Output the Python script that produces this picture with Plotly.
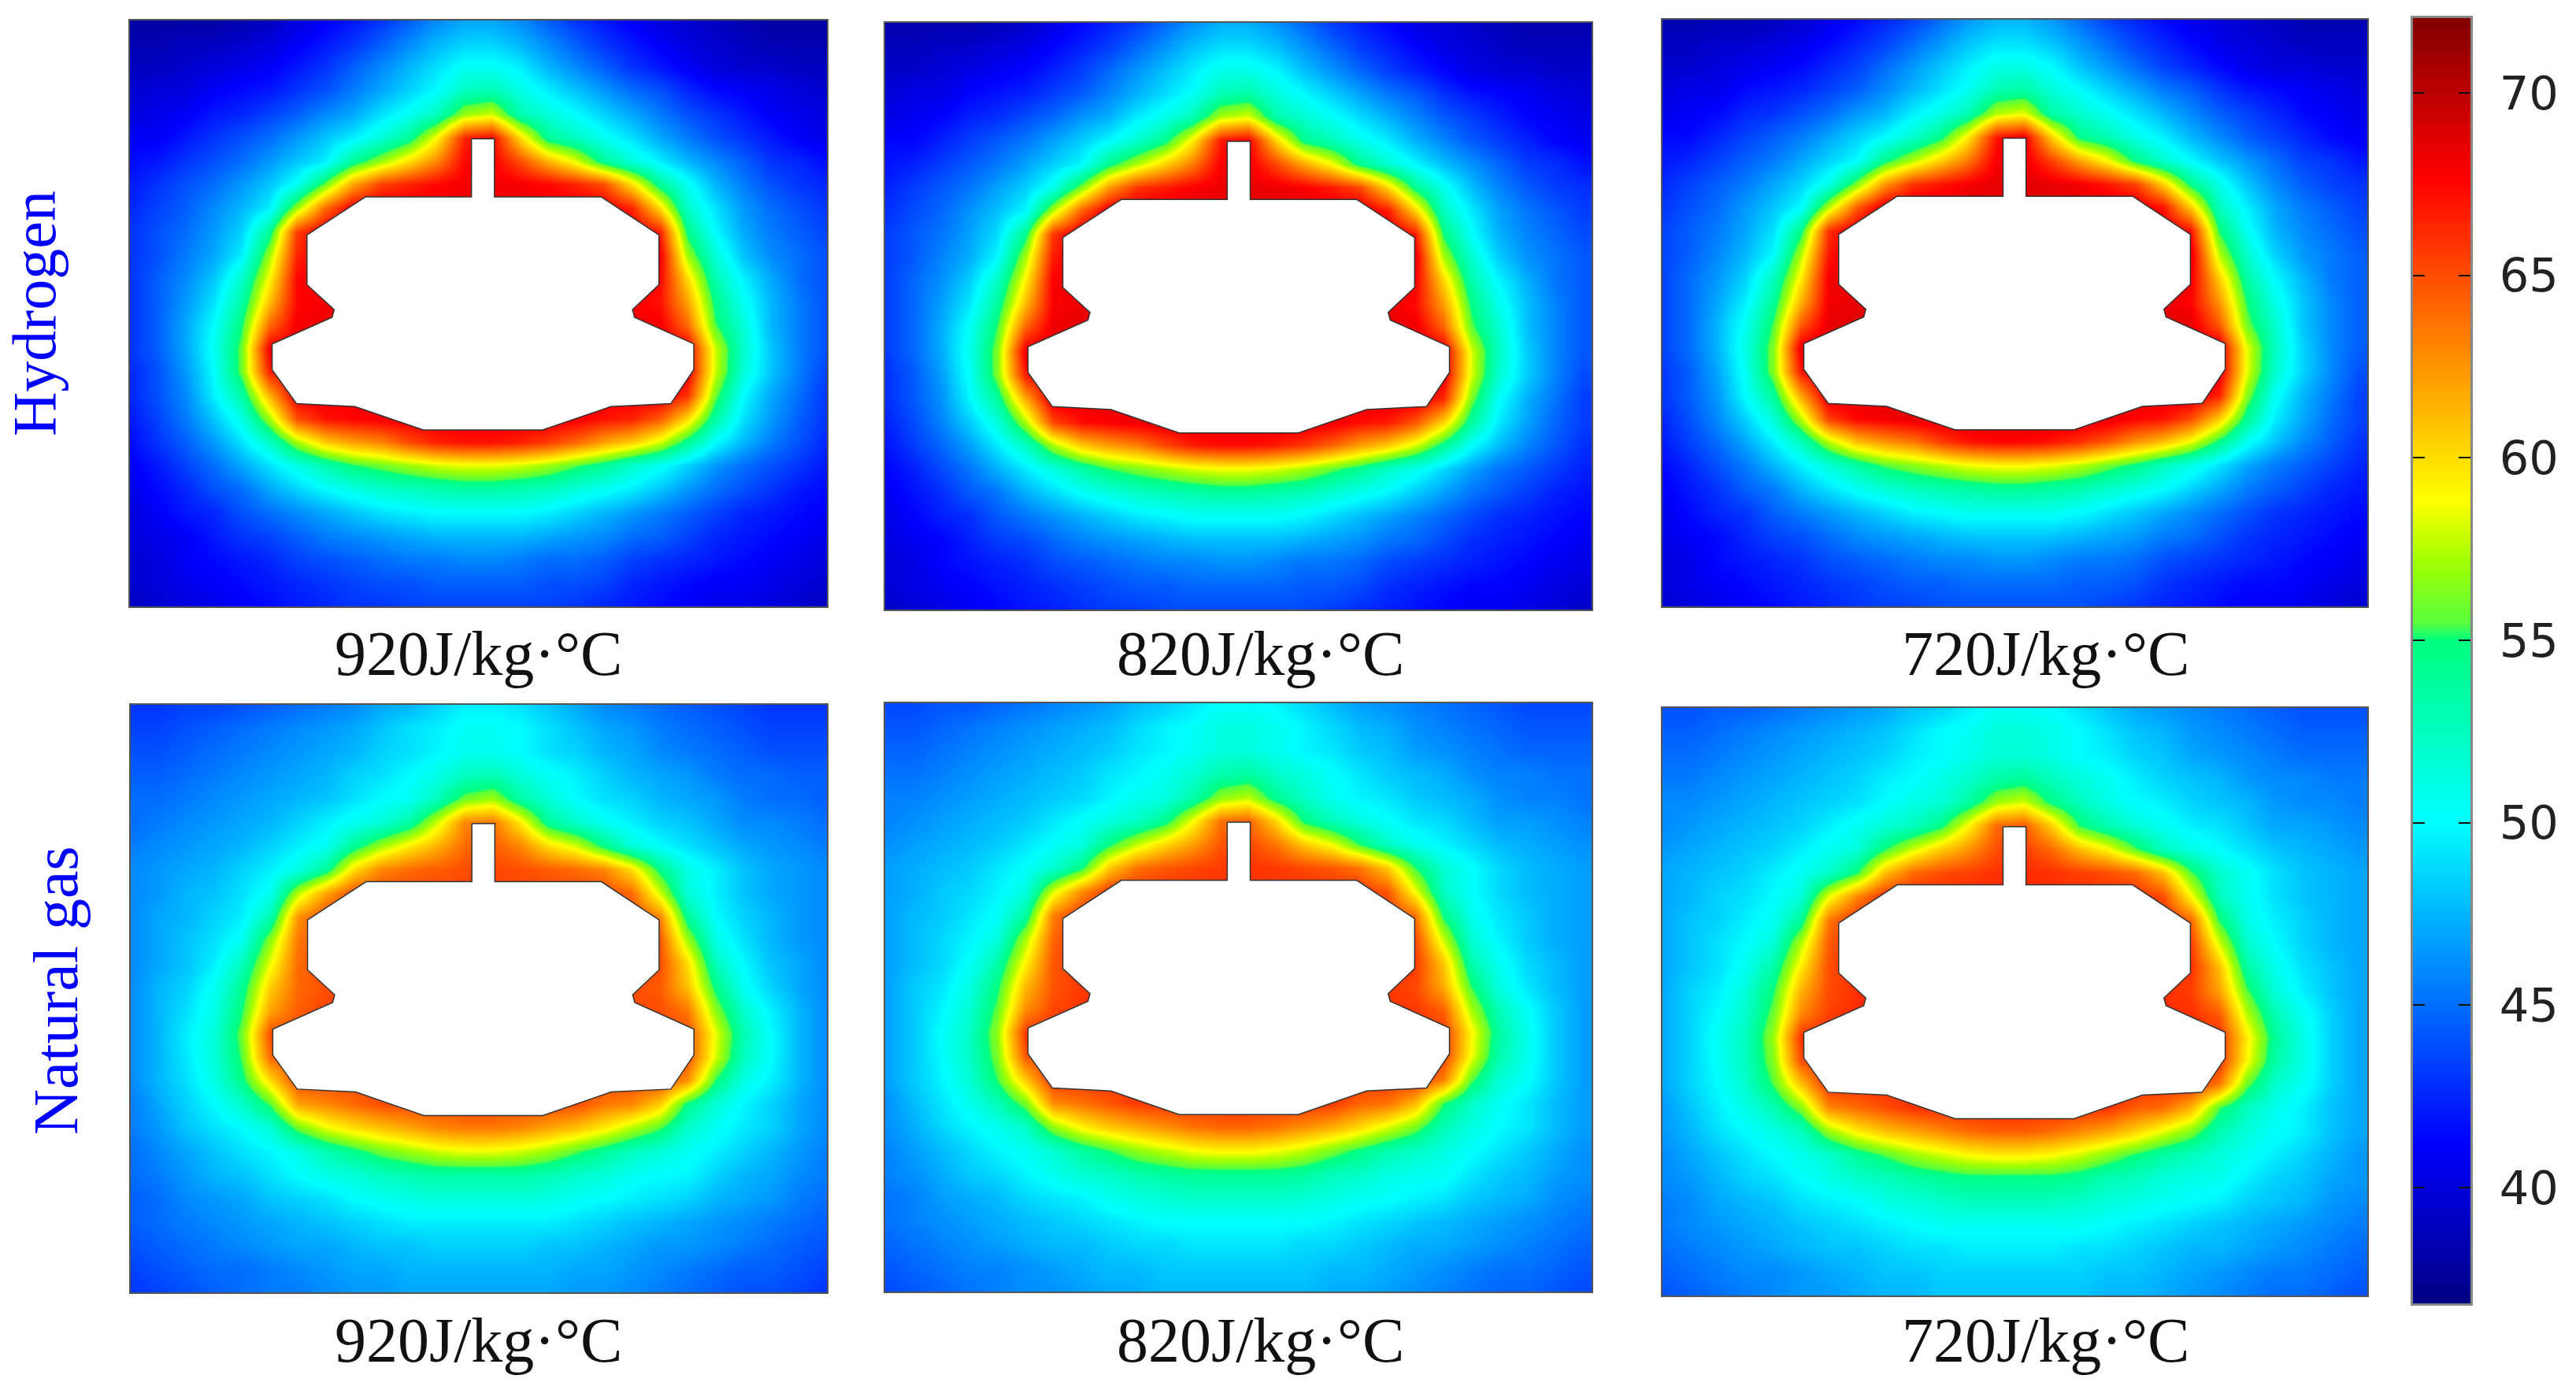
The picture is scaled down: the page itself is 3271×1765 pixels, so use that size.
import plotly.graph_objects as go

W, H = 3271, 1765

grid_x = [0,4,8,12,16,20,24,28,32,36,40,44,48,52,56,60,64,68,72,76,80,84,88,92,96,100]
grid_y = [0,4,8,12,16,20,24,28,32,36,40,44,48,52,56,60,64,68,72,76,80,84,88,92,96,100]

hydrogen_field = [
[38,38,38,38,38.5,39,40,41,42,43,44.5,46,47,47,46,44.5,43,42,41,40,39.5,39,38.5,38,38,38],
[38.5,38.5,39,39,39.5,40,41,42,43,44.5,46,47.5,48.5,48.5,47.5,46,44.5,43,42,41,40,39.5,39,38.5,38.5,38.5],
[39,39,39.5,40,40.5,41,42,43,44.5,46,47.5,49,50.5,50.5,49.5,47.5,46,44.5,43,42,41,40,39.5,39.5,39,39],
[39.5,40,40,41,41.5,42,43,44,45.5,47,48.5,50,52.5,53,51,49.5,48,46.5,45,44,42.5,41.5,41,40.5,40,39.5],
[40,40.5,41,42,42.5,43.5,44.5,46,47,49,50.5,52.5,57,58,53,51.5,50,48.5,47,45.5,44,43,42,41,40.5,40],
[41,41,42,43,44,45,46.5,48,49.5,51.5,54,59,66.5,67.5,60,54,52.5,50.5,49,47,45.5,44,43,42,41,40.5],
[41.5,42,43,44,45,46.5,48,49.5,54,57,60,63,67.5,67.8,65,61.5,58.5,54,51.5,49.5,47.5,46,44.5,43,42.5,41.5],
[42,43,44,45,46.5,48,50.5,56,62,65.5,66.5,67.5,68,68.2,68,67.5,66.5,65,60,54,50.5,47.5,45.5,44,43,42.5],
[42.5,43.5,44.5,46,47.5,49.5,57,64,68,68.2,68.2,68.2,68.2,68.2,68.2,68.2,68.2,68.2,66.5,60,52,49,46.5,45,44,43],
[43,44,45,46.5,48.5,54,65.5,68.2,68.2,68.2,68.2,68.2,68.2,68.2,68.2,68.2,68.2,68.2,68.2,66.5,54.5,50,47,45.5,44.5,43.5],
[43,44,45.5,47,49.5,57,66.5,68.2,68.2,68.2,68.2,68.2,68.2,68.2,68.2,68.2,68.2,68.2,68.2,68,57,51.5,48,46,45,44],
[43,44.5,46,48,52,59,67.5,68.2,68.2,68.2,68.2,68.2,68.2,68.2,68.2,68.2,68.2,68.2,68.2,67.5,60,53,49.5,47,45,44],
[43,44.5,46.5,49,53.5,61,67.5,68,68.2,68.2,68.2,68.2,68.2,68.2,68.2,68.2,68.2,68.2,68,67,62,54.5,50.5,47.5,45.5,44],
[43,44.5,47,50,55,64,68,68.2,68.2,68.2,68.2,68.2,68.2,68.2,68.2,68.2,68.2,68.2,68.2,68,64,55.5,51.5,47.5,45.5,44],
[43,44.5,47,50.5,56,68,68.2,68.2,68.2,68.2,68.2,68.2,68.2,68.2,68.2,68.2,68.2,68.2,68.2,68.2,68,58,52,48,45.5,44],
[42.5,44,46.5,50,56,66.5,68.2,68.2,68.2,68.2,68.2,68.2,68.2,68.2,68.2,68.2,68.2,68.2,68.2,68.2,68,58,51.5,48,45.5,43.5],
[42.5,44,46,49.5,53.5,61.5,68.2,68.2,68.2,68.2,68.2,68.2,68.2,68.2,68.2,68.2,68.2,68.2,68.2,68.2,66,56,50,47,45,43],
[42,43.5,45.5,48,51,57,65,67,67.5,68,68.2,68.2,68.2,68.2,68.2,68.2,68,67,66.5,64.5,60,53.5,49,46.5,44.5,43],
[41.5,43,44.5,46.5,49,52,57,60.5,62,63,65,66.5,67,67,66.5,65.5,64,62,60.5,58,54,50,47.5,45.5,44,42.5],
[41,42,43.5,45,47,49,51,53,55,56,57,58,58.5,58.5,58,57,55.5,54,52,50.5,48.5,46.5,45,44,43,42],
[40.5,41.5,42.5,44,45,47,48.5,50,51,52,52.5,53,53.5,53.5,53,52.5,51.5,50.5,49.5,48,46.5,45,44,43,42,41.5],
[40,41,42,42.5,44,45,46,47,48,49,49.5,50,50,50,50,49.5,48.5,47.5,46.5,45.5,44.5,43.5,42.5,42,41.5,41],
[40,40.5,41,42,43,43.5,44.5,45.5,46,46.5,47,47.5,47.5,47.5,47.5,47,46.5,46,45,44.5,43.5,42.5,42,41.5,41,40.5],
[39.5,40,41,41.5,42,42.5,43.5,44,44.5,45,45.5,45.5,46,46,45.5,45,45,44.5,43.5,43,42.5,42,41.5,41,40.5,40],
[39.5,40,40.5,41,41.5,42,42.5,43,43.5,44,44,44.5,44.5,44.5,44.5,44,44,43.5,42.5,42,41.5,41,41,40.5,40,39.5],
[39,39.5,40,40.5,41,41.5,42,42.5,43,43,43.5,43.5,43.5,43.5,43.5,43.5,43,42.5,42,41.5,41,40.5,40.5,40,39.5,39],
]

natural_gas_field = [
[43,43,43.5,43.5,44,44.5,45,45.5,46,47,47.5,48.5,49.5,49.5,49,48,47,46,45.5,45,44.5,44,43.5,43,43,43],
[43.5,43.5,44,44.5,45,45.5,46,46.5,47,48,49,49.5,50.5,50.5,50,49,48,47,46.5,45.5,45,44.5,44,43.5,43.5,43.5],
[44,44,44.5,45,45.5,46,46.5,47,47.5,48.5,49,49.8,50.6,50.6,50,49,48.5,47.5,47,46,45.5,45,44.5,44,44,44],
[44.5,44.5,45,45.5,46,46.5,47,47.5,48.5,49,50,51,52.5,53,51.5,50.5,49.5,48.5,47.5,47,46.5,45.5,45,45,44.5,44.5],
[45,45,45.5,46,46.5,47,47.5,48,49,50,50.5,52.5,56,57,53.5,51.5,50,49,48.5,47.5,47,46.5,45.5,45,45,44.5],
[45,45.5,46,46.5,47,47.5,48.5,49.5,50.5,51.5,53.5,58,63,63.5,59.5,54,52,50.5,49.5,48.5,48,47,46,46,45.5,45],
[45.5,46,46.5,47,47.5,48.5,49.5,50.5,54,57,59.5,61.5,64,64.5,63,60,58,54.5,51.5,50,49,48,47,46.5,46,45.5],
[46,46.5,47,47.5,48.5,49.5,51,54,60,63,64,64.5,65,65.2,65,64.5,64,63,60,54.5,51,49.5,48,47,46.5,46],
[46,46.5,47.5,48,49,50.5,57.5,62,65,65.2,65.2,65.2,65.2,65.2,65.2,65.2,65.2,65.2,64,58,51.5,49.5,48,47,46.5,46],
[46,47,47.5,48.5,49.5,53,62.5,65.2,65.2,65.2,65.2,65.2,65.2,65.2,65.2,65.2,65.2,65.2,65.2,63,54,50,48.5,47.5,46.5,46],
[46,47,48,49,50.5,56.5,63.5,65.2,65.2,65.2,65.2,65.2,65.2,65.2,65.2,65.2,65.2,65.2,65.2,64.5,57,51,49,47.5,46.5,46],
[46,47,48,49.5,52.5,58.5,64,65.2,65.2,65.2,65.2,65.2,65.2,65.2,65.2,65.2,65.2,65.2,65.2,65,60,52.5,49.8,48,47,46],
[46,47.5,48.5,50.5,54,60.5,64,65,65.2,65.2,65.2,65.2,65.2,65.2,65.2,65.2,65.2,65.2,65,64.5,61,54.5,50.5,48.5,47,46],
[46,47.5,49,51,55,62,64.5,65.2,65.2,65.2,65.2,65.2,65.2,65.2,65.2,65.2,65.2,65.2,65.2,65,63.5,56.5,52,49.5,47.5,46],
[46,47.5,49.5,51.5,56,65,65.2,65.2,65.2,65.2,65.2,65.2,65.2,65.2,65.2,65.2,65.2,65.2,65.2,65.2,65,58.5,53,50,47.5,46],
[46,47.5,49.3,51.5,55.5,64,65.2,65.2,65.2,65.2,65.2,65.2,65.2,65.2,65.2,65.2,65.2,65.2,65.2,65.2,65,58,52.5,50,47.5,46],
[46,47.5,49,51,54.5,60,65.2,65.2,65.2,65.2,65.2,65.2,65.2,65.2,65.2,65.2,65.2,65.2,65.2,65.2,62.5,55,51,49.5,47.5,46],
[45.5,47,48.5,50,52,55.5,62,63,64,65,65.2,65.2,65.2,65.2,65.2,65.2,65,63.5,63,60.5,54.5,51.5,49.8,48.5,47,46],
[45.5,46.5,48,49,50,51.5,56,58.5,60,61,62,63,63.5,63.5,63,62,61,59.5,57.5,55.5,52,50.5,49.3,48.5,47,46],
[45,46,47,48,49,49.8,51,53,54.5,56,57,58,58.5,58.5,58,57,55.5,54,52.5,51.5,50.5,49.5,48.5,47.5,46.5,45.5],
[45,45.5,46.5,47.5,48,49,50,51,51.5,52.5,53,53.5,53.5,53.5,53.5,53,52,51.5,50.5,50,49.8,48.5,47.5,47,46,45.5],
[44.5,45,46,46.5,47,48,48.5,49,50,50.5,51,51.5,51.5,51.5,51.5,51,50.5,50,49.5,49,48.5,47.5,47,46.5,45.5,45],
[44.5,45,45.5,46,46.5,47,47.5,48,48.5,49,49.5,49.5,49.5,49.5,49.5,49.5,49,48.5,48,47.5,47,46.5,46,45.5,45,44.5],
[44,44.5,45,45.5,46,46.5,47,47,47.5,48,48,48.5,48.5,48.5,48.5,48,48,47.5,47,46.5,46.5,46,45.5,45,44.5,44],
[43.5,44,44.5,45,45,45.5,46,46.5,47,47,47.5,47.5,47.5,47.5,47.5,47.5,47,47,46.5,46,45.5,45,44.5,44.5,44,43.5],
[43,43.5,44,44.5,45,45.5,45.5,46,46.5,46.5,47,47,47,47,47,47,46.5,46.5,46,45.5,45,44.5,44,44,43.5,43],
]

# offset of each panel's level from its fuel's field
panel_level_offset = [0, 0.3, 0.5, 0, 0.7, 1.0]
panel_fuel = ["hydrogen", "hydrogen", "hydrogen", "natural gas", "natural gas", "natural gas"]
panel_titles = ["920J/kg·°C", "820J/kg·°C", "720J/kg·°C", "920J/kg·°C", "820J/kg·°C", "720J/kg·°C"]

vessel_x = [49.0,52.3,52.3,67.6,75.9,75.9,72.1,72.4,80.9,80.9,77.6,69.0,59.2,42.1,32.3,23.9,20.4,20.4,29.0,29.3,25.4,25.4,33.8,49.0,49.0]
vessel_y = [20.2,20.2,30.1,30.1,36.6,45.1,49.35,50.65,55.2,59.6,65.4,65.9,69.9,69.9,65.9,65.4,59.6,55.2,50.65,49.35,45.1,36.6,30.1,30.1,20.2]

scale_ticks = [40, 45, 50, 55, 60, 65, 70]
scale_levels = list(range(37, 73))
scale_min, scale_max = 36.83, 72.05

assert all(len(r) == 26 for r in hydrogen_field + natural_gas_field)
assert len(hydrogen_field) == 26 and len(natural_gas_field) == 26

colorscale = [
    [0.0, "rgb(0,0,130)"], [0.125, "rgb(0,0,255)"], [0.375, "rgb(0,255,255)"],
    [0.5, "rgb(0,255,140)"], [0.516, "rgb(0,255,128)"], [0.53, "rgb(90,255,60)"],
    [0.58, "rgb(165,255,0)"], [0.625, "rgb(255,255,0)"], [0.875, "rgb(255,0,0)"],
    [1.0, "rgb(130,0,0)"],
]

# pixel frames: left, right, top, bottom; x range of each panel
frames = [
    (165, 1050, 26, 770), (1124, 2021, 29, 774), (2111, 3006, 25, 770),
    (166, 1050, 895, 1641), (1124, 2021, 893, 1640), (2111, 3006, 899, 1645),
]
x_ranges = [(0, 100), (-0.1, 101.3), (0.1, 101.3), (0, 100), (-0.1, 101.3), (0.1, 101.3)]
label_pos = [(607, 830), (1600, 830), (2597, 830), (607, 1702), (1600, 1702), (2597, 1702)]

def dom_x(a, b):
    return [a / W, b / W]

def dom_y(t, b):
    return [1 - b / H, 1 - t / H]

fig = go.Figure()
layout = {}
annotations = []
frame_color = "#555555"

for i, (l, r, t, b) in enumerate(frames):
    n = i + 1
    field = hydrogen_field if panel_fuel[i] == "hydrogen" else natural_gas_field
    z = [[v + panel_level_offset[i] for v in row] for row in field]
    fig.add_trace(go.Heatmap(x=grid_x, y=grid_y, z=z, zsmooth="best", coloraxis="coloraxis",
                             xaxis=f"x{n}", yaxis=f"y{n}", hoverinfo="skip"))
    fig.add_trace(go.Scatter(x=vessel_x, y=vessel_y, mode="lines", fill="toself",
                             fillcolor="white", line=dict(color="#333333", width=1.5),
                             xaxis=f"x{n}", yaxis=f"y{n}", hoverinfo="skip", showlegend=False))
    layout[f"xaxis{n}"] = dict(domain=dom_x(l, r), range=list(x_ranges[i]), anchor=f"y{n}",
                               showgrid=False, zeroline=False, showticklabels=False, ticks="",
                               showline=True, mirror=True, linecolor=frame_color, linewidth=2)
    layout[f"yaxis{n}"] = dict(domain=dom_y(t, b), range=[100, 0], anchor=f"x{n}",
                               showgrid=False, zeroline=False, showticklabels=False, ticks="",
                               showline=True, mirror=True, linecolor=frame_color, linewidth=2)
    annotations.append(dict(text=panel_titles[i], xref="paper", yref="paper",
                            x=label_pos[i][0] / W, y=1 - label_pos[i][1] / H,
                            xanchor="center", yanchor="middle", showarrow=False,
                            font=dict(family="Liberation Serif", size=80, color="#111111")))

# colour scale strip
fig.add_trace(go.Heatmap(x=[0, 1], y=scale_levels, z=[[v, v] for v in scale_levels], zsmooth="best",
                         coloraxis="coloraxis", xaxis="x7", yaxis="y7", hoverinfo="skip"))
layout["xaxis7"] = dict(domain=dom_x(3064, 3137), range=[0, 1], anchor="y7", showgrid=False,
                        zeroline=False, showticklabels=False, ticks="", showline=True, mirror=True,
                        linecolor="#888888", linewidth=3)
layout["yaxis7"] = dict(domain=dom_y(23, 1655), range=[scale_min, scale_max], anchor="x7", side="right",
                        showgrid=False, zeroline=False, tickvals=scale_ticks, ticks="inside", ticklen=15,
                        tickwidth=2, tickcolor="#111111", showline=True, mirror="ticks",
                        linecolor="#888888", linewidth=3, ticklabelstandoff=22,
                        tickfont=dict(family="DejaVu Sans", size=59, color="#222222"))

annotations.append(dict(text="Hydrogen", xref="paper", yref="paper", x=44 / W, y=1 - 398 / H,
                        textangle=-90, showarrow=False, xanchor="center", yanchor="middle",
                        font=dict(family="Liberation Serif", size=78, color="#0000ff")))
annotations.append(dict(text="Natural gas", xref="paper", yref="paper", x=71 / W, y=1 - 1258 / H,
                        textangle=-90, showarrow=False, xanchor="center", yanchor="middle",
                        font=dict(family="Liberation Serif", size=80, color="#0000ff")))

fig.update_layout(
    width=W, height=H, autosize=False, margin=dict(l=0, r=0, t=0, b=0),
    paper_bgcolor="white", plot_bgcolor="white", showlegend=False,
    coloraxis=dict(colorscale=colorscale, cmin=scale_min, cmax=scale_max, showscale=False),
    annotations=annotations, **layout,
)
fig.write_html("out.html", post_script="document.body.style.margin='0';",
               config={"displayModeBar": False})
